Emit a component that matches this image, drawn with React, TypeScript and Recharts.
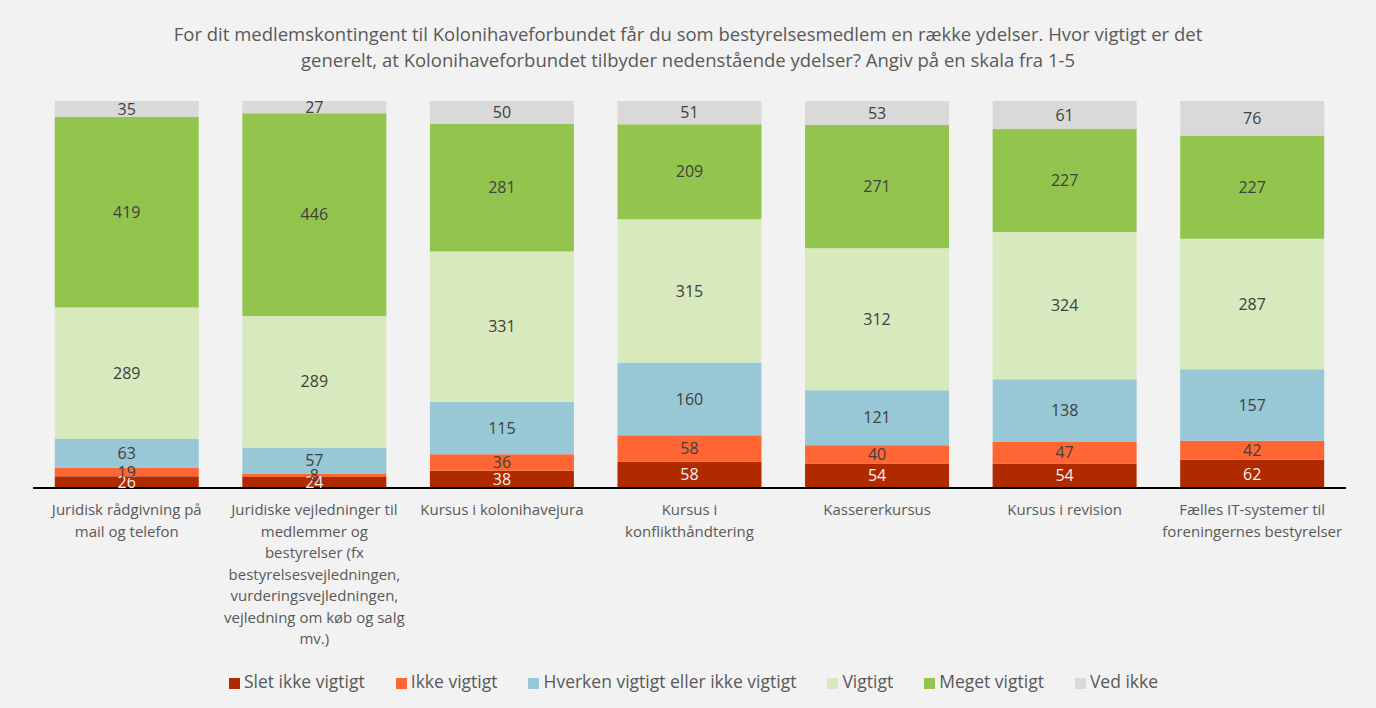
import { BarChart, Bar, XAxis, YAxis, Legend, LabelList } from 'recharts';

const categories = [
  'Juridisk rådgivning på\nmail og telefon',
  'Juridiske vejledninger til\nmedlemmer og\nbestyrelser (fx\nbestyrelsesvejledningen,\nvurderingsvejledningen,\nvejledning om køb og salg\nmv.)',
  'Kursus i kolonihavejura',
  'Kursus i\nkonflikthåndtering',
  'Kassererkursus',
  'Kursus i revision',
  'Fælles IT-systemer til\nforeningernes bestyrelser',
];

const sletIkke = [26, 24, 38, 58, 54, 54, 62];
const ikke = [19, 8, 36, 58, 40, 47, 42];
const hverken = [63, 57, 115, 160, 121, 138, 157];
const vigtigt = [289, 289, 331, 315, 312, 324, 287];
const meget = [419, 446, 281, 209, 271, 227, 227];
const vedIkke = [35, 27, 50, 51, 53, 61, 76];

const series = [
  { key: 'slet', name: 'Slet ikke vigtigt', values: sletIkke, color: '#b02a00', label: '#f2f2f2' },
  { key: 'ikke', name: 'Ikke vigtigt', values: ikke, color: '#ff6633', label: '#404040' },
  { key: 'hverken', name: 'Hverken vigtigt eller ikke vigtigt', values: hverken, color: '#98c8d5', label: '#404040' },
  { key: 'vigtigt', name: 'Vigtigt', values: vigtigt, color: '#d7e9bd', label: '#404040' },
  { key: 'meget', name: 'Meget vigtigt', values: meget, color: '#93c54e', label: '#404040' },
  { key: 'ved', name: 'Ved ikke', values: vedIkke, color: '#d9d9d9', label: '#404040' },
];

const data = categories.map((cat, i) => {
  const row: Record<string, string | number> = { cat };
  series.forEach((s) => {
    row[s.key] = s.values[i];
  });
  return row;
});

const FONT = '"Open Sans", Lato, sans-serif';

function WrappedTick(props: any) {
  const { x, y, payload } = props;
  const lines = String(payload.value).split('\n');
  return (
    <g transform={`translate(${x},${y})`}>
      <text textAnchor="middle" fill="#595959" fontSize={15} fontFamily={FONT}>
        {lines.map((line, i) => (
          <tspan key={i} x={0} dy={i === 0 ? 27 : 21.5}>
            {line}
          </tspan>
        ))}
      </text>
    </g>
  );
}

export default function App() {
  return (
    <div
      style={{
        position: 'absolute',
        left: 0,
        top: 0,
        width: 1376,
        height: 708,
        background: '#f2f2f2',
        fontFamily: FONT,
      }}
    >
      <div
        style={{
          position: 'absolute',
          top: 21,
          left: 0,
          width: 1376,
          textAlign: 'center',
          color: '#595959',
          fontSize: 18.5,
          lineHeight: '26px',
        }}
      >
        For dit medlemskontingent til Kolonihaveforbundet får du som bestyrelsesmedlem en række ydelser. Hvor vigtigt er det
        <br />
        generelt, at Kolonihaveforbundet tilbyder nedenstående ydelser? Angiv på en skala fra 1-5
      </div>
      <BarChart
        width={1376}
        height={708}
        data={data}
        margin={{ top: 101, right: 30, bottom: 0, left: 33 }}
        barCategoryGap="11.6%"
        style={{ position: 'absolute', left: 0, top: 0 }}
      >
        <XAxis
          dataKey="cat"
          interval={0}
          height={220}
          tickLine={false}
          tickSize={0}
          tickMargin={0}
          axisLine={{ stroke: '#000000', strokeWidth: 2 }}
          tick={<WrappedTick />}
        />
        <YAxis hide domain={[0, 851]} />
        <Legend
          layout="horizontal"
          verticalAlign="middle"
          align="center"
          iconType="square"
          iconSize={11}
          itemSorter={(item: any) => series.findIndex((s) => s.name === item.value)}
          wrapperStyle={{ top: 669, left: 21, width: 1376, fontSize: 17.5, fontFamily: FONT }}
          formatter={(value: string) => <span style={{ color: '#595959', marginRight: 21 }}>{value}</span>}
        />
        {series.map((s) => (
          <Bar key={s.key} dataKey={s.key} name={s.name} stackId="a" fill={s.color} isAnimationActive={false}>
            <LabelList dataKey={s.key} position="center" fill={s.label} fontSize={16} fontFamily={FONT} />
          </Bar>
        ))}
      </BarChart>
    </div>
  );
}
